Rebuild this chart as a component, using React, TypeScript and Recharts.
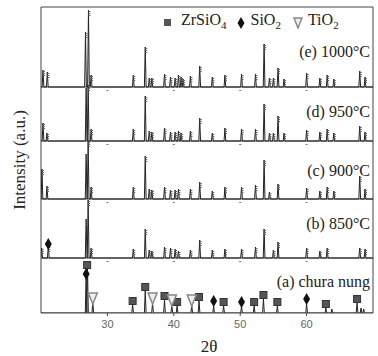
import React from 'react';
import { ComposedChart, Line, Scatter, XAxis, YAxis, ReferenceLine } from 'recharts';

// 2θ ticks
const xTicks = [30, 40, 50, 60];

// peaks: [2θ, intensity]
const peaksE: [number, number][] = [
  [20.3, 17], [20.95, 15], [26.7, 55], [27.15, 77], [27.55, 12], [33.9, 12], [35.7, 40], [36.3, 9],
  [36.7, 9], [38.6, 13], [39.5, 10], [40.2, 9], [40.7, 12], [41.1, 10], [41.4, 8], [42.5, 11],
  [43.9, 21], [45.8, 10], [47.7, 12], [50.2, 13], [52.3, 13], [53.6, 43], [54.4, 9], [55.0, 9],
  [55.7, 19], [56.6, 8], [60.0, 14], [62.0, 9], [63.1, 12], [64.1, 8], [68.0, 16], [68.8, 10],
];
const peaksD: [number, number][] = [
  [20.3, 18], [20.9, 8], [26.8, 53], [27.1, 56], [27.55, 12], [33.9, 12], [35.7, 45], [36.3, 10],
  [36.7, 9], [38.6, 13], [39.5, 9], [40.2, 9], [40.7, 10], [41.1, 8], [42.5, 10], [43.9, 23],
  [45.8, 8], [47.7, 13], [50.2, 12], [52.3, 12], [53.6, 37], [54.4, 8], [55.0, 8], [55.7, 25],
  [56.6, 8], [60.0, 11], [62.0, 9], [63.1, 12], [64.1, 8], [68.0, 15], [68.8, 9],
];
const peaksC: [number, number][] = [
  [20.15, 30], [20.9, 13], [26.8, 45], [27.1, 58], [27.55, 12], [33.9, 12], [35.7, 43], [36.3, 10],
  [36.7, 9], [38.6, 12], [39.5, 9], [40.2, 9], [40.7, 10], [42.5, 10], [43.9, 17], [45.8, 8],
  [47.7, 12], [50.2, 12], [52.3, 14], [53.6, 39], [54.4, 7], [55.7, 15], [60.0, 11], [62.0, 8],
  [63.1, 12], [64.1, 8], [68.0, 23], [68.8, 10],
];
const peaksB: [number, number][] = [
  [20.1, 10], [21.1, 12], [26.8, 39], [27.1, 58], [27.55, 10], [33.9, 9], [35.7, 29], [36.3, 8],
  [36.7, 7], [38.6, 11], [39.5, 10], [40.2, 9], [40.7, 7], [42.5, 8], [43.9, 18], [45.8, 8],
  [47.7, 9], [50.2, 9], [52.3, 11], [53.6, 29], [55.0, 8], [55.7, 16], [60.0, 10], [62.0, 7],
  [63.1, 10], [68.0, 10], [68.8, 9],
];
const peaksA: [number, number][] = [
  [26.8, 40], [27.0, 46], [27.8, 10], [33.8, 8], [35.7, 22], [36.8, 10], [38.6, 13], [39.7, 8],
  [40.5, 7], [42.7, 8], [43.8, 12], [46.0, 7], [47.5, 7], [50.2, 7], [52.1, 7], [53.5, 14],
  [55.6, 7], [60.0, 9], [62.9, 5], [63.8, 4], [67.6, 10], [68.2, 5], [68.6, 4],
];

// phase markers: [2θ, height]
const zrsio4A: [number, number][] = [
  [26.95, 48], [33.8, 12], [35.7, 26], [38.6, 17], [40.5, 11], [43.8, 16], [47.5, 11],
  [52.1, 11], [53.5, 18], [55.6, 11], [62.9, 9], [67.6, 14],
];
const sio2A: [number, number][] = [[26.8, 39], [46.0, 12], [50.2, 11], [60.0, 14]];
const tio2A: [number, number][] = [[27.8, 15], [36.8, 15], [39.7, 13], [42.7, 13]];
const sio2B: [number, number][] = [[21.1, 14]];

const labels = ['(a) chura nung', '(b) 850°C', '(c) 900°C', '(d) 950°C', '(e) 1000°C'];

const W = 378;
const H = 356;
const BASE = [0, 55, 114, 172, 226]; // baseline of each panel, a..e
const TOP = 306;
const HW = 0.13;
const LABEL_Y = [281.7, 223.7, 170.7, 111.7, 51.7];

const panels = [peaksA, peaksB, peaksC, peaksD, peaksE];

const trace = (peaks: [number, number][], base: number) => {
  const pts = [{ x: 20, y: base }];
  [...peaks].sort((a, b) => a[0] - b[0]).forEach(([p, h]) => {
    pts.push({ x: p - HW, y: base }, { x: p, y: base + h }, { x: p + HW, y: base });
  });
  pts.push({ x: 70, y: base });
  return pts;
};

const tops = (peaks: [number, number][], base: number) => peaks.map(([x, h]) => ({ x, y: base + h }));

const Glyph = (props: any) => (
  <g fill="#666">
    <rect x={props.cx} y={props.cy + 1} width={2} height={1} />
    <rect x={props.cx} y={props.cy + 3} width={2} height={1} />
    <rect x={props.cx} y={props.cy + 5} width={2} height={1} />
  </g>
);
const Square = (props: any) => (
  <rect x={props.cx - 3.5} y={props.cy - 3.5} width={7} height={7} fill="#555" stroke="#333" />
);
const Diamond = (props: any) => (
  <polygon
    points={`${props.cx},${props.cy - 6} ${props.cx + 3.5},${props.cy} ${props.cx},${props.cy + 6} ${props.cx - 3.5},${props.cy}`}
    fill="#111"
  />
);
const Tri = (props: any) => (
  <polygon
    points={`${props.cx - 4.5},${props.cy - 5} ${props.cx + 4.5},${props.cy - 5} ${props.cx},${props.cy + 6}`}
    fill="#eee"
    stroke="#888"
    strokeWidth={1.5}
  />
);
const SepTick = (props: any) => <rect x={props.cx - 1} y={props.cy + 3} width={2} height={1} fill="#777" />;

const serif = '"Liberation Serif", "Times New Roman", serif';

export default function App() {
  const sepTicks = BASE.slice(1).flatMap((b) => xTicks.map((x) => ({ x, y: b })));
  return (
    <div style={{ position: 'absolute', left: 0, top: 0, width: W, height: H, background: '#fff' }}>
      <ComposedChart width={W} height={H} margin={{ top: 7, right: 5, left: 41, bottom: 30 }}>
        <XAxis
          type="number"
          dataKey="x"
          domain={[20, 70]}
          ticks={xTicks}
          height={13}
          tickSize={3}
          tickMargin={4}
          allowDataOverflow
          stroke="#444"
          tick={{ fontSize: 11, fill: '#666', fontFamily: 'Arial, "Liberation Sans", sans-serif' }}
        />
        <YAxis type="number" dataKey="y" domain={[0, TOP]} hide allowDataOverflow />
        {BASE.slice(1).map((b) => (
          <ReferenceLine key={b} y={b} stroke="#444" strokeWidth={1} />
        ))}
        <ReferenceLine y={TOP} stroke="#444" />
        <ReferenceLine x={20} stroke="#444" />
        <ReferenceLine x={70} stroke="#444" />
        {panels.map((pk, i) => (
          <Line
            key={i}
            data={trace(pk, BASE[i])}
            dataKey="y"
            type="linear"
            stroke="#222"
            strokeWidth={1}
            dot={false}
            isAnimationActive={false}
          />
        ))}
        {panels.slice(1).map((pk, i) => (
          <Scatter key={'g' + i} data={tops(pk, BASE[i + 1])} dataKey="y" shape={Glyph} isAnimationActive={false} />
        ))}
        <Scatter data={sepTicks} dataKey="y" shape={SepTick} isAnimationActive={false} />
        <Scatter data={tops(zrsio4A, BASE[0])} dataKey="y" shape={Square} isAnimationActive={false} />
        <Scatter data={tops(sio2A, BASE[0])} dataKey="y" shape={Diamond} isAnimationActive={false} />
        <Scatter data={tops(tio2A, BASE[0])} dataKey="y" shape={Tri} isAnimationActive={false} />
        <Scatter data={tops(sio2B, BASE[1])} dataKey="y" shape={Diamond} isAnimationActive={false} />
      </ComposedChart>

      {labels.map((t, i) => (
        <div
          key={t}
          style={{
            position: 'absolute',
            right: 8,
            top: LABEL_Y[i] - 10,
            lineHeight: '20px',
            fontFamily: serif,
            fontSize: 16,
            color: '#222',
            whiteSpace: 'nowrap',
          }}
        >
          {t}
        </div>
      ))}

      <div
        style={{
          position: 'absolute',
          left: 163,
          top: 10,
          lineHeight: '20px',
          fontFamily: serif,
          fontSize: 16,
          color: '#222',
          whiteSpace: 'nowrap',
          display: 'flex',
          alignItems: 'center',
        }}
      >
        <svg width={9} height={9} style={{ marginRight: 9 }}>
          <rect x={1} y={1} width={7} height={7} fill="#555" />
        </svg>
        <span>
          ZrSiO<sub style={{ fontSize: 11 }}>4</sub>
        </span>
        <svg width={8} height={12} style={{ marginLeft: 10, marginRight: 6 }}>
          <polygon points="4,0 7.5,6 4,12 0.5,6" fill="#111" />
        </svg>
        <span>
          SiO<sub style={{ fontSize: 11 }}>2</sub>
        </span>
        <svg width={10} height={12} style={{ marginLeft: 12, marginRight: 5 }}>
          <polygon points="1,1 9,1 5,11" fill="#eee" stroke="#888" strokeWidth={1.5} />
        </svg>
        <span>
          TiO<sub style={{ fontSize: 11 }}>2</sub>
        </span>
      </div>

      <div
        style={{
          position: 'absolute',
          left: 20,
          top: 160,
          transform: 'translate(-50%, -50%) rotate(-90deg)',
          fontFamily: serif,
          fontSize: 17,
          color: '#222',
          whiteSpace: 'nowrap',
          lineHeight: '20px',
        }}
      >
        Intensity (a.u.)
      </div>
      <div
        style={{
          position: 'absolute',
          left: 209,
          top: 347,
          transform: 'translate(-50%, -50%)',
          fontFamily: serif,
          fontSize: 17,
          color: '#222',
          whiteSpace: 'nowrap',
          lineHeight: '20px',
        }}
      >
        2θ
      </div>
    </div>
  );
}
